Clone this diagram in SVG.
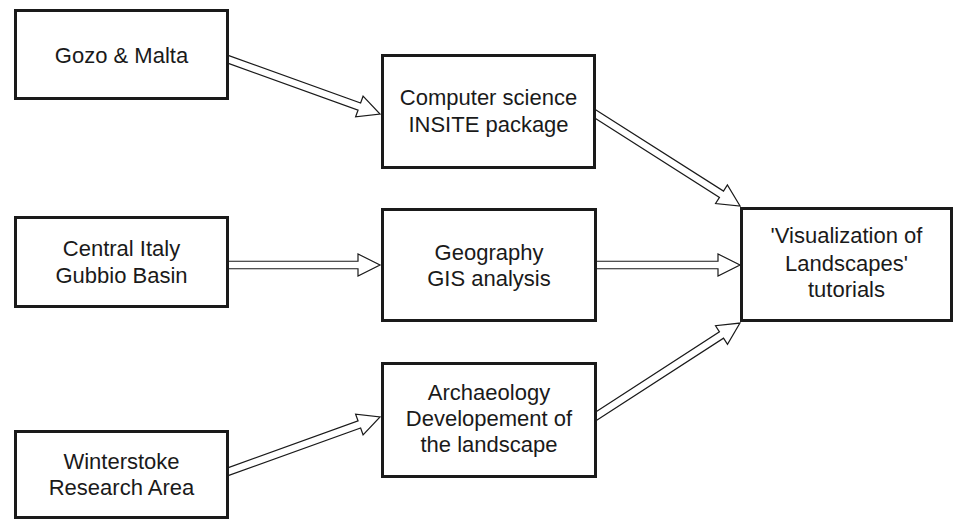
<svg xmlns="http://www.w3.org/2000/svg" width="955" height="520" viewBox="0 0 955 520">
<style>
.box{fill:#fff;stroke:#1a1a1a;stroke-width:3}
.arrow{fill:#fff;stroke:#1a1a1a;stroke-width:1.2;stroke-linejoin:miter}
text{font-family:"Liberation Sans",Arial,Helvetica,sans-serif;font-size:22px;fill:#1a1a1a;text-anchor:middle}
</style>
<rect width="955" height="520" fill="#fff"/>
<g id="connectors">
<path class="arrow" transform="translate(224.8,58.1) rotate(19.8)" d="M0,-3.75 H143 V-11 L165,0 L143,11 V3.75 H0"/>
<path class="arrow" transform="translate(592.4,112.1) rotate(32.47)" d="M0,-3.75 H153 V-11 L175,0 L153,11 V3.75 H0"/>
<path class="arrow" transform="translate(225,265)" d="M0,-3.75 H133 V-11 L155,0 L133,11 V3.75 H0"/>
<path class="arrow" transform="translate(593,265)" d="M0,-3.75 H125 V-11 L147,0 L125,11 V3.75 H0"/>
<path class="arrow" transform="translate(224.8,472.9) rotate(-19.8)" d="M0,-3.75 H143 V-11 L165,0 L143,11 V3.75 H0"/>
<path class="arrow" transform="translate(593.1,418.2) rotate(-32.94)" d="M0,-3.75 H153 V-11 L175,0 L153,11 V3.75 H0"/>
</g>
<g id="gozo">
<rect class="box" x="15.5" y="10.5" width="212" height="88"/>
<text x="121.5" y="63">Gozo &amp; Malta</text>
</g>
<g id="italy">
<rect class="box" x="15.5" y="217.5" width="212" height="89"/>
<text x="121.5" y="256">Central Italy</text>
<text x="121.5" y="283">Gubbio Basin</text>
</g>
<g id="winterstoke">
<rect class="box" x="15.5" y="431.5" width="212" height="86"/>
<text x="121.5" y="469">Winterstoke</text>
<text x="121.5" y="495">Research Area</text>
</g>
<g id="cs">
<rect class="box" x="382.5" y="55.5" width="212" height="112"/>
<text x="488.5" y="105">Computer science</text>
<text x="488.5" y="132">INSITE package</text>
</g>
<g id="geo">
<rect class="box" x="382.5" y="209.5" width="213" height="111"/>
<text x="489" y="260">Geography</text>
<text x="489" y="286">GIS analysis</text>
</g>
<g id="arch">
<rect class="box" x="382.5" y="363.5" width="213" height="113"/>
<text x="489" y="400">Archaeology</text>
<text x="489" y="426">Developement of</text>
<text x="489" y="452">the landscape</text>
</g>
<g id="vis">
<rect class="box" x="741.5" y="208.5" width="210" height="112"/>
<text x="846.5" y="243">'Visualization of</text>
<text x="846.5" y="271">Landscapes'</text>
<text x="846.5" y="297">tutorials</text>
</g>
</svg>
